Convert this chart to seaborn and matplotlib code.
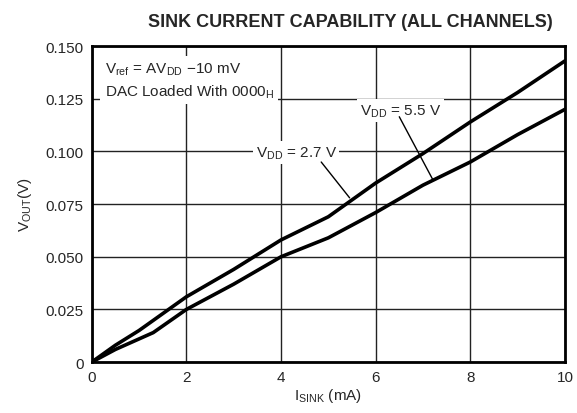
import numpy as np
import pandas as pd
import seaborn as sns
import matplotlib.pyplot as plt

# sink current (mA) and output voltage (V)
i_sink_27 = [0, 0.5, 1.0, 1.5, 2.0, 3.0, 4.0, 5.0, 5.5, 6.0, 7.0, 8.0, 9.0, 10.0]
v_out_27 = [0, 0.008, 0.015, 0.023, 0.031, 0.044, 0.058, 0.069, 0.077, 0.085, 0.099, 0.114, 0.128, 0.143]

i_sink_55 = [0, 0.5, 1.0, 1.3, 2.0, 3.0, 4.0, 5.0, 6.0, 7.0, 8.0, 9.0, 10.0]
v_out_55 = [0, 0.006, 0.011, 0.014, 0.025, 0.037, 0.050, 0.059, 0.071, 0.084, 0.095, 0.108, 0.120]

x_ticks = [0, 2, 4, 6, 8, 10]
y_ticks = [0, 0.025, 0.05, 0.075, 0.1, 0.125, 0.15]
y_tick_labels = ['0', '0.025', '0.050', '0.075', '0.100', '0.125', '0.150']

df = pd.concat([
    pd.DataFrame({'I': i_sink_27, 'V': v_out_27, 'VDD': '2.7 V'}),
    pd.DataFrame({'I': i_sink_55, 'V': v_out_55, 'VDD': '5.5 V'}),
])

sns.set_style('white')
plt.rcParams['font.family'] = ['Liberation Sans', 'DejaVu Sans']

fig = plt.figure(figsize=(5.77, 4.14), dpi=100)
ax = fig.add_axes([0.159, 0.123, 0.820, 0.763])

sns.lineplot(data=df, x='I', y='V', units='VDD', estimator=None, color='black',
             linewidth=2.6, legend=False, ax=ax, zorder=3)

ax.set_xlim(0, 10)
ax.set_ylim(0, 0.15)
ax.set_xticks(x_ticks)
ax.set_xticklabels([str(t) for t in x_ticks])
ax.set_yticks(y_ticks)
ax.set_yticklabels(y_tick_labels)
ax.tick_params(length=0, labelsize=11, pad=6)
ax.grid(True, color='#222222', linewidth=1.0)
ax.set_axisbelow(True)
for s in ax.spines.values():
    s.set_linewidth(2)
    s.set_color('black')

ax.set_xlabel('I$_{\\mathregular{SINK}}$ (mA)', fontsize=11, labelpad=1)
ax.set_ylabel('V$_{\\mathregular{OUT}}$(V)', fontsize=11, labelpad=8)
fig.text(0.607, 0.945, 'SINK CURRENT CAPABILITY (ALL CHANNELS)', fontsize=13,
         fontweight='bold', ha='center', va='center')

white = dict(facecolor='white', edgecolor='none', pad=2)
ax.text(0.27, 0.1435, 'V$_{\\mathregular{ref}}$ = AV$_{\\mathregular{DD}}$ \u221210 mV\n'
        'DAC Loaded With 0000$_{\\mathregular{H}}$',
        fontsize=11, va='top', ha='left', linespacing=1.45,
        bbox=dict(facecolor='white', edgecolor='none', pad=3), zorder=4)

ax.text(6.52, 0.1195, 'V$_{\\mathregular{DD}}$ = 5.5 V', fontsize=11, ha='center',
        va='center', bbox=white, zorder=4)
ax.text(4.32, 0.0995, 'V$_{\\mathregular{DD}}$ = 2.7 V', fontsize=11, ha='center',
        va='center', bbox=white, zorder=4)

ax.plot([6.5, 7.2], [0.1165, 0.087], color='black', linewidth=1, zorder=4)
ax.plot([4.85, 5.45], [0.095, 0.078], color='black', linewidth=1, zorder=4)

fig.savefig('out.png', dpi=100)
